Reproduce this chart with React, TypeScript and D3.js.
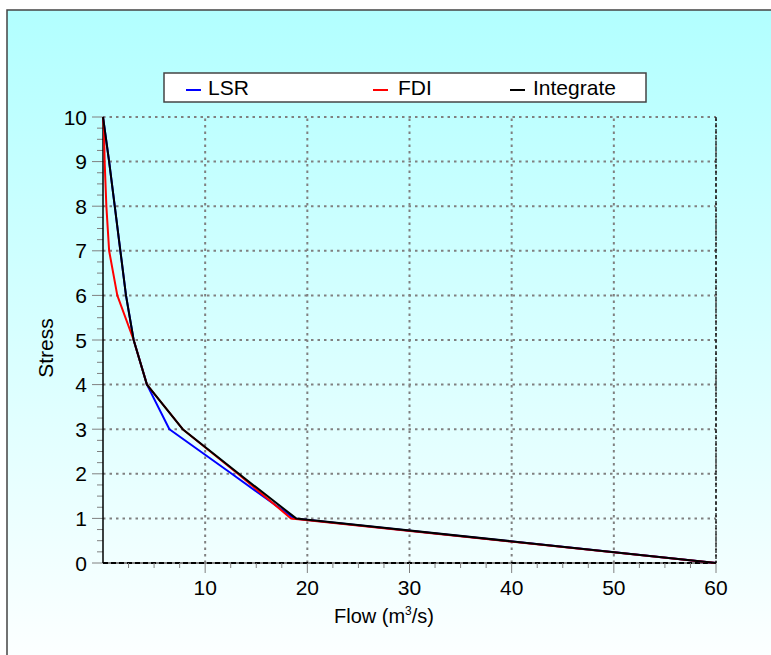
import React from "react";
import * as d3 from "d3";

const seriesNames = ["LSR", "FDI", "Integrate"];
const seriesColors = ["#0000ff", "#ff0000", "#000000"];

const lsrFlow = [0, 0.6, 1.15, 1.7, 2.25, 3.0, 4.3, 6.5, 12.6, 18.7, 60];
const lsrStress = [10, 9, 8, 7, 6, 5, 4, 3, 2, 1, 0];

const fdiFlow = [0, 0.1, 0.16, 0.33, 0.6, 1.4, 3.0, 4.3, 7.8, 13.2, 18.4, 60];
const fdiStress = [10, 9.7, 9, 8, 7, 6, 5, 4, 3, 2, 1, 0];

const intFlow = [0, 0.6, 1.15, 1.7, 2.25, 3.0, 4.3, 7.8, 13.3, 18.9, 60];
const intStress = [10, 9, 8, 7, 6, 5, 4, 3, 2, 1, 0];

const xTicks = [10, 20, 30, 40, 50, 60];
const yTicks = [0, 1, 2, 3, 4, 5, 6, 7, 8, 9, 10];

const W = 771;
const H = 655;
const FONT = "Liberation Sans, Arial, sans-serif";

export default function App() {
  const x = d3.scaleLinear().domain([0, 60]).range([103, 716]);
  const y = d3.scaleLinear().domain([0, 10]).range([563, 117]);

  const data = [
    lsrFlow.map((f, i) => [f, lsrStress[i]] as [number, number]),
    fdiFlow.map((f, i) => [f, fdiStress[i]] as [number, number]),
    intFlow.map((f, i) => [f, intStress[i]] as [number, number]),
  ];
  const line = d3
    .line<[number, number]>()
    .x((d) => x(d[0]))
    .y((d) => y(d[1]));

  const xMinor = d3.range(2.5, 60, 2.5).filter((v) => Math.abs(v % 10) > 0.01);
  const yMinor = d3.range(0.25, 10, 0.25).filter((v) => Math.abs(v % 1) > 0.01);

  const [x0, x1] = x.range();
  const [y0, y1] = y.range();

  const legendItems = [
    { dash: 186, text: 208 },
    { dash: 373, text: 398 },
    { dash: 510, text: 533 },
  ];

  return (
    <svg
      width={W}
      height={H}
      style={{ position: "absolute", left: 0, top: 0, fontFamily: FONT }}
    >
      <defs>
        <linearGradient id="bg" x1="0" y1="0" x2="0" y2="1">
          <stop offset="0%" stopColor="#b2ffff" />
          <stop offset="100%" stopColor="#fdffff" />
        </linearGradient>
      </defs>
      <rect x={0} y={0} width={W} height={H} fill="#ffffff" />
      <rect x={7} y={10} width={W} height={H} fill="url(#bg)" stroke="#444" strokeWidth={1.5} />

      {/* grid */}
      {xTicks.map((t) => (
        <line key={"gx" + t} x1={x(t)} x2={x(t)} y1={y0} y2={y1} stroke="#808080" strokeWidth={2} strokeDasharray="2.5,4" />
      ))}
      {yTicks.filter((t) => t > 0).map((t) => (
        <line key={"gy" + t} x1={x0} x2={x1} y1={y(t)} y2={y(t)} stroke="#808080" strokeWidth={2} strokeDasharray="2.5,4" />
      ))}
      {/* right border dashed */}
      <line x1={x1} x2={x1} y1={y1} y2={y0} stroke="#000" strokeWidth={1.2} strokeDasharray="4,2" />
      {/* bottom axis dashed */}
      <line x1={x0} x2={x1} y1={y0} y2={y0} stroke="#808080" strokeWidth={2} />
      <line x1={x0} x2={x1} y1={y0} y2={y0} stroke="#000" strokeWidth={2} strokeDasharray="5,3" />

      {/* x ticks */}
      {xTicks.map((t) => (
        <g key={"xt" + t}>
          <line x1={x(t)} x2={x(t)} y1={y0} y2={y0 + 10} stroke="#808080" strokeWidth={1} />
          <text x={x(t)} y={y0 + 32} textAnchor="middle" fontSize={21} fill="#000">
            {t}
          </text>
        </g>
      ))}
      {xMinor.map((t) => (
        <line key={"xm" + t} x1={x(t)} x2={x(t)} y1={y0} y2={y0 + 5} stroke="#808080" strokeWidth={1} />
      ))}

      {/* y ticks */}
      {yTicks.map((t) => (
        <g key={"yt" + t}>
          <line x1={x0 - 11} x2={x0} y1={y(t)} y2={y(t)} stroke="#808080" strokeWidth={1} />
          <text x={x0 - 16} y={y(t) + 7.5} textAnchor="end" fontSize={21} fill="#000">
            {t}
          </text>
        </g>
      ))}
      {yMinor.map((t) => (
        <line key={"ym" + t} x1={x0 - 6} x2={x0} y1={y(t)} y2={y(t)} stroke="#808080" strokeWidth={1} />
      ))}
      {/* left axis */}
      <line x1={x0} x2={x0} y1={y1} y2={y0} stroke="#000" strokeWidth={1.5} />

      {/* series */}
      {data.map((d, i) => (
        <path key={"s" + i} d={line(d) || ""} fill="none" stroke={seriesColors[i]} strokeWidth={2} strokeLinejoin="round" />
      ))}

      {/* axis titles */}
      <text x={384} y={623} textAnchor="middle" fontSize={20} fill="#000">
        Flow (m<tspan dy={-8} fontSize={12}>3</tspan>
        <tspan dy={8}>/s)</tspan>
      </text>
      <text transform="translate(53,348) rotate(-90)" textAnchor="middle" fontSize={21} fill="#000">
        Stress
      </text>

      {/* legend */}
      <rect x={164} y={73} width={482} height={29} fill="#ffffff" stroke="#444" strokeWidth={1.5} />
      {legendItems.map((it, i) => (
        <g key={"lg" + i}>
          <line x1={it.dash} x2={it.dash + 15} y1={90} y2={90} stroke={seriesColors[i]} strokeWidth={2} />
          <text x={it.text} y={95} fontSize={21} fill="#000">
            {seriesNames[i]}
          </text>
        </g>
      ))}
    </svg>
  );
}
